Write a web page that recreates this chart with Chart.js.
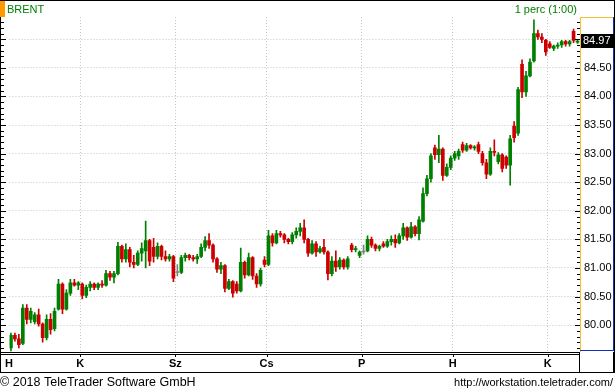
<!DOCTYPE html>
<html>
<head>
<meta charset="utf-8">
<title>BRENT</title>
<script src="https://cdn.jsdelivr.net/npm/chart.js@4.4.0/dist/chart.umd.min.js"></script>
<style>
  html, body { margin: 0; padding: 0; background: #fff; }
  #wrap { width: 615px; height: 390px; }
</style>
</head>
<body>
<div id="wrap"><canvas id="chart" width="615" height="390"></canvas></div>
<script>
// BRENT, 1 perc (1:00) - one candle per slot
var title = 'BRENT';
var intervalLabel = '1 perc (1:00)';
var copyright = '\u00a9 2018 TeleTrader Software GmbH';
var siteUrl = 'http://workstation.teletrader.com/';

var dayLabels = ['H', 'K', 'Sz', 'Cs', 'P', 'H', 'K'];
var dayTicks = [-0.5, 17.5, 41.5, 64.5, 88.5, 111.5, 135.5];
var priceTicks = [80.00, 80.50, 81.00, 81.50, 82.00, 82.50, 83.00, 83.50, 84.00, 84.50, 85.00];

var opens = [
  79.60, 79.82, 79.76, 79.68, 80.30, 80.10, 80.06, 80.18, 80.02, 79.78,
  80.10, 79.94, 80.28, 80.72, 80.28, 80.56, 80.74, 80.70, 80.72, 80.52,
  80.66, 80.72, 80.66, 80.72, 80.70, 80.90, 80.84, 80.90, 81.38, 81.16,
  81.32, 81.10, 81.06, 81.26, 81.30, 81.48, 81.36, 81.20, 81.38, 81.20,
  81.16, 81.20, 80.92, 80.92, 81.18, 81.22, 81.18, 81.16, 81.20, 81.36,
  81.48, 81.40, 81.16, 80.98, 81.04, 80.64, 80.76, 80.72, 80.60, 81.10,
  80.88, 81.18, 80.86, 80.72, 81.14, 81.06, 81.56, 81.44, 81.60, 81.58,
  81.50, 81.46, 81.58, 81.64, 81.70, 81.50, 81.26, 81.42, 81.28, 81.36,
  81.28, 80.90, 81.12, 81.02, 81.14, 81.02, 81.40, 81.32, 81.22, 81.28,
  81.30, 81.50, 81.40, 81.34, 81.42, 81.38, 81.46, 81.50, 81.44, 81.56,
  81.70, 81.54, 81.72, 81.60, 81.82, 82.30, 82.56, 83.10, 82.98, 83.08,
  82.62, 82.76, 82.92, 82.96, 83.16, 83.06, 83.14, 83.10, 83.16, 83.00,
  82.84, 82.64, 83.04, 82.86, 82.98, 82.94, 82.80, 83.48, 83.36, 84.56,
  84.08, 84.36, 84.62, 85.10, 85.04, 84.98, 84.92, 84.84, 84.88, 84.90,
  84.96, 84.92, 85.14, 84.95
];
var highs = [
  79.86, 79.86, 79.84, 80.36, 80.36, 80.30, 80.22, 80.28, 80.04, 80.18,
  80.20, 80.30, 80.80, 80.74, 80.62, 80.80, 80.80, 80.76, 80.74, 80.70,
  80.76, 80.74, 80.74, 80.78, 80.96, 80.94, 80.94, 81.45, 81.40, 81.42,
  81.36, 81.22, 81.30, 81.44, 81.82, 81.50, 81.52, 81.44, 81.40, 81.30,
  81.24, 81.22, 81.06, 81.22, 81.26, 81.24, 81.22, 81.24, 81.42, 81.55,
  81.60, 81.42, 81.18, 81.10, 81.06, 80.80, 80.78, 80.76, 81.35, 81.12,
  81.26, 81.20, 80.90, 81.00, 81.20, 81.66, 81.60, 81.66, 81.64, 81.60,
  81.52, 81.62, 81.70, 81.78, 81.84, 81.52, 81.48, 81.46, 81.38, 81.50,
  81.30, 81.20, 81.30, 81.18, 81.16, 81.20, 81.43, 81.38, 81.30, 81.40,
  81.56, 81.54, 81.42, 81.40, 81.46, 81.50, 81.56, 81.58, 81.60, 81.78,
  81.72, 81.80, 81.74, 81.90, 82.40, 82.62, 83.00, 83.15, 83.32, 83.10,
  82.82, 82.96, 83.04, 83.08, 83.20, 83.18, 83.16, 83.14, 83.20, 83.04,
  82.90, 83.10, 83.24, 83.02, 83.00, 82.96, 83.32, 83.56, 84.16, 84.64,
  84.44, 84.66, 85.34, 85.16, 85.10, 85.00, 84.96, 84.90, 84.94, 84.98,
  84.98, 84.98, 85.18, 85.00
];
var lows = [
  79.55, 79.72, 79.60, 79.66, 80.02, 80.04, 80.02, 79.98, 79.70, 79.74,
  79.84, 79.90, 80.26, 80.20, 80.26, 80.52, 80.68, 80.62, 80.46, 80.48,
  80.60, 80.62, 80.62, 80.66, 80.68, 80.78, 80.74, 80.88, 81.10, 81.10,
  81.02, 81.00, 81.04, 81.12, 81.00, 81.04, 81.10, 81.16, 81.14, 81.12,
  81.12, 80.76, 80.86, 80.90, 81.12, 81.14, 81.12, 81.08, 81.18, 81.30,
  81.34, 81.10, 80.92, 80.90, 80.58, 80.62, 80.49, 80.56, 80.58, 80.82,
  80.86, 80.80, 80.66, 80.68, 81.02, 81.04, 81.38, 81.42, 81.54, 81.44,
  81.42, 81.42, 81.52, 81.56, 81.44, 81.20, 81.24, 81.20, 81.26, 81.24,
  80.79, 80.86, 80.94, 80.98, 80.98, 80.98, 81.28, 81.28, 81.18, 81.24,
  81.28, 81.36, 81.30, 81.30, 81.36, 81.36, 81.40, 81.36, 81.42, 81.50,
  81.48, 81.52, 81.56, 81.49, 81.80, 82.26, 82.50, 82.90, 82.84, 82.53,
  82.60, 82.72, 82.88, 82.90, 83.02, 83.04, 83.08, 83.06, 83.00, 82.80,
  82.56, 82.62, 82.96, 82.82, 82.68, 82.74, 82.45, 83.20, 83.32, 83.98,
  84.00, 84.34, 84.60, 85.00, 84.94, 84.72, 84.84, 84.80, 84.84, 84.86,
  84.88, 84.88, 84.94, 84.93
];
var closes = [
  79.82, 79.76, 79.66, 80.30, 80.10, 80.24, 80.18, 80.02, 79.78, 80.10,
  79.92, 80.24, 80.72, 80.28, 80.56, 80.74, 80.70, 80.74, 80.52, 80.66,
  80.72, 80.66, 80.72, 80.70, 80.90, 80.84, 80.90, 81.38, 81.16, 81.32,
  81.10, 81.06, 81.26, 81.34, 81.48, 81.12, 81.20, 81.38, 81.20, 81.16,
  81.20, 80.82, 80.92, 81.18, 81.22, 81.18, 81.16, 81.20, 81.36, 81.48,
  81.40, 81.16, 80.98, 81.04, 80.64, 80.76, 80.56, 80.60, 81.10, 80.88,
  81.18, 80.86, 80.72, 80.96, 81.06, 81.56, 81.44, 81.60, 81.58, 81.50,
  81.46, 81.58, 81.64, 81.70, 81.50, 81.26, 81.42, 81.28, 81.34, 81.28,
  80.90, 81.12, 81.02, 81.14, 81.02, 81.16, 81.32, 81.34, 81.28, 81.28,
  81.50, 81.40, 81.34, 81.38, 81.38, 81.46, 81.50, 81.44, 81.56, 81.70,
  81.54, 81.72, 81.60, 81.84, 82.30, 82.56, 82.96, 82.98, 83.08, 82.62,
  82.76, 82.92, 83.00, 83.04, 83.06, 83.14, 83.10, 83.12, 83.04, 82.84,
  82.64, 83.04, 83.02, 82.98, 82.74, 82.80, 83.26, 83.28, 84.12, 84.08,
  84.36, 84.60, 85.10, 85.04, 85.00, 84.78, 84.86, 84.88, 84.90, 84.96,
  84.92, 84.96, 84.98, 84.97
];

var UP = '#008000', DOWN = '#cc0000', FLAT = '#808080';

function candleColor(i) {
  if (closes[i] > opens[i]) return UP;
  if (closes[i] < opens[i]) return DOWN;
  return FLAT;
}

var wicks = [], bodies = [];
opens.forEach(function (o, i) {
  wicks.push({ x: i, y: [lows[i], highs[i]] });
  bodies.push({ x: i, y: [o, closes[i]] });
});

// frame, header, price box, small tick marks
var frame = {
  id: 'frame',
  afterDraw: function (chart) {
    var c = chart.ctx, a = chart.chartArea;
    var ys = chart.scales.y, xs = chart.scales.x;
    c.save();

    c.fillStyle = '#ff9900';
    c.fillRect(0, 0, 5, 17);
    c.fillStyle = '#008000';
    c.font = '11px "Liberation Sans"';
    c.textBaseline = 'alphabetic';
    c.textAlign = 'left';
    c.fillText(title, 7, 13);
    c.textAlign = 'right';
    c.fillText(intervalLabel, 577, 13);

    c.fillStyle = '#000';
    c.fillRect(0, 0, 615, 1);
    c.fillRect(0, 17, 1, 356);
    c.fillRect(614, 0, 1, 373);
    c.fillRect(0, a.bottom, a.right, 1);
    c.fillRect(0, a.bottom + 2, a.right, 1);
    c.fillRect(0, 372, 615, 1);
    c.fillRect(a.right - 1, a.bottom, 1, 21);
    c.fillRect(613, a.bottom, 1, 21);
    dayTicks.forEach(function (v) {
      var px = Math.round(xs.getPixelForValue(v));
      if (px > a.left) c.fillRect(px, a.bottom + 2, 1, 3);
    });

    // 0.1 steps on both edges, longer at every 0.5
    for (var k = 796; k <= 853; k++) {
      var py = Math.round(ys.getPixelForValue(k / 10));
      var len = (k % 5 === 0) ? 5 : 3;
      c.fillRect(1, py, len, 1);
      c.fillRect(a.right - len, py, len, 1);
    }

    c.fillStyle = '#f2c230';
    c.fillRect(a.right, a.top, 1, a.bottom - a.top);
    c.fillRect(a.right, a.top, 34, 1);
    c.fillStyle = '#1030c0';
    c.fillRect(613, a.top, 1, a.bottom - a.top - 1);
    c.fillRect(a.right, a.bottom - 2, 34, 1);

    var last = closes[closes.length - 1];
    var ly = Math.round(ys.getPixelForValue(last));
    c.fillStyle = '#000';
    c.fillRect(a.right + 1, ly - 7, 33, 14);
    c.fillStyle = '#fff';
    c.font = '11px "Liberation Sans"';
    c.textAlign = 'left';
    c.textBaseline = 'middle';
    c.fillText(last.toFixed(2), a.right + 3, ly);

    c.fillStyle = '#000';
    c.textBaseline = 'alphabetic';
    c.font = '12.5px "Liberation Sans"';
    c.textAlign = 'left';
    c.fillText(copyright, 0, 386);
    c.font = '11px "Liberation Sans"';
    c.textAlign = 'right';
    c.fillText(siteUrl, 613, 386);
    c.restore();
  }
};

Chart.defaults.font.family = '"Liberation Sans", Arial, sans-serif';

var ctx = document.getElementById('chart').getContext('2d');
var myChart = new Chart(ctx, {
  type: 'bar',
  data: {
    datasets: [
      {
        data: wicks,
        barThickness: 1,
        backgroundColor: function (cx) { return candleColor(cx.dataIndex); },
        borderWidth: 0
      },
      {
        data: bodies,
        barThickness: 3,
        minBarLength: 1,
        backgroundColor: function (cx) { return candleColor(cx.dataIndex); },
        borderWidth: 0
      }
    ]
  },
  options: {
    responsive: false,
    devicePixelRatio: 1,
    animation: false,
    events: [],
    layout: { padding: { left: 4, right: 0, top: 17, bottom: 18 } },
    datasets: { bar: { grouped: false } },
    plugins: { legend: { display: false }, tooltip: { enabled: false } },
    scales: {
      x: {
        type: 'linear',
        offset: false,
        min: -0.375,
        max: 143.625,
        afterBuildTicks: function (s) {
          s.ticks = dayTicks.map(function (v) { return { value: v }; });
        },
        afterFit: function (s) { s.height = 20; },
        grid: {
          offset: false,
          drawTicks: false,
          color: function (cx) { return cx.index === 0 ? 'rgba(0,0,0,0)' : '#c4c4c4'; }
        },
        border: { display: false, dash: [1, 2] },
        ticks: {
          autoSkip: false,
          maxRotation: 0,
          padding: 5,
          color: '#000',
          font: { size: 11, weight: 'bold' },
          callback: function (v, i) { return dayLabels[i]; }
        }
      },
      y: {
        position: 'right',
        min: 79.53,
        max: 85.39,
        afterBuildTicks: function (s) {
          s.ticks = priceTicks.map(function (v) { return { value: v }; });
        },
        afterFit: function (s) { s.width = 35; },
        grid: { drawTicks: false, color: '#c4c4c4' },
        border: { display: false, dash: [1, 2] },
        ticks: {
          padding: 4,
          color: '#000',
          font: { size: 11 },
          callback: function (v) { return v === 85 ? '' : v.toFixed(2); }
        }
      }
    }
  },
  plugins: [frame]
});
</script>
</body>
</html>
